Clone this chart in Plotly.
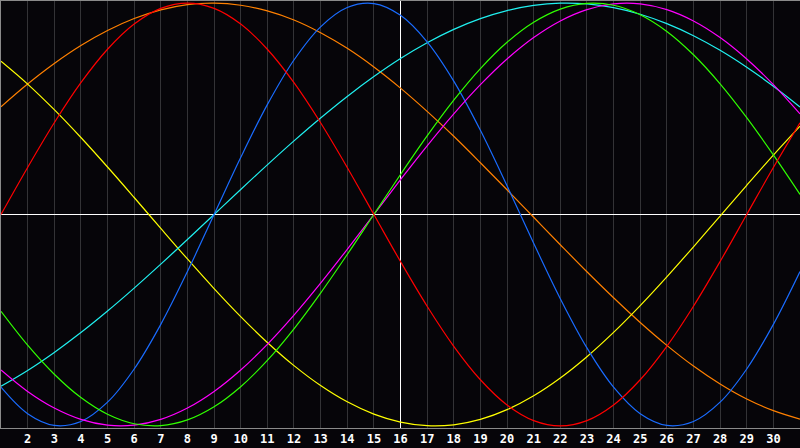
import plotly.graph_objects as go

days = list(range(1, 32))
today = 16
tick_days = list(range(2, 31))
tick_labels = [str(d) for d in tick_days]

red = [0, 0.2225, 0.4339, 0.6235, 0.7818, 0.9010, 0.9749, 1.0, 0.9749, 0.9010,
       0.7818, 0.6235, 0.4339, 0.2225, 0, -0.2225, -0.4339, -0.6235, -0.7818, -0.9010,
       -0.9749, -1.0, -0.9749, -0.9010, -0.7818, -0.6235, -0.4339, -0.2225, 0, 0.2225, 0.4339]
orange = [0.51, 0.6175, 0.7145, 0.7995, 0.8705, 0.927, 0.968, 0.993, 1.0, 0.99,
          0.963, 0.920, 0.860, 0.786, 0.698, 0.598, 0.488, 0.370, 0.245, 0.117,
          -0.013, -0.143, -0.271, -0.394, -0.511, -0.619, -0.717, -0.802, -0.873, -0.928, -0.968]
yellow = [0.7249, 0.6170, 0.4959, 0.3641, 0.2246, 0.0804, -0.0656, -0.2103, -0.3504, -0.4830,
          -0.6053, -0.7149, -0.8090, -0.8860, -0.9441, -0.9820, -0.9990, -0.9948, -0.9693, -0.9232,
          -0.8575, -0.7734, -0.6727, -0.5578, -0.4310, -0.2950, -0.1528, -0.0073, 0.1383, 0.2811, 0.4179]
blue = [-0.8170, -0.9423, -0.9977, -0.9791, -0.8879, -0.7308, -0.5196, -0.2698, 0, 0.2698,
        0.5196, 0.7308, 0.8879, 0.9791, 0.9977, 0.9423, 0.8170, 0.6311, 0.3984, 0.1362,
        -0.1362, -0.3984, -0.6311, -0.8170, -0.9423, -0.9977, -0.9791, -0.8879, -0.7308, -0.5196, -0.2698]
cyan = [-0.8126, -0.7380, -0.6527, -0.5586, -0.4566, -0.3482, -0.2349, -0.1183, 0, 0.1183,
        0.2349, 0.3482, 0.4566, 0.5586, 0.6527, 0.7380, 0.8126, 0.8758, 0.9267, 0.9647,
        0.9890, 0.9996, 0.9961, 0.9785, 0.9473, 0.9028, 0.8457, 0.7766, 0.6965, 0.6068, 0.5086]
green = [-0.4582, -0.6182, -0.7557, -0.8660, -0.9450, -0.9898, -0.9989, -0.9718, -0.9096, -0.8146,
         -0.6901, -0.5406, -0.3717, -0.1893, 0, 0.1893, 0.3717, 0.5406, 0.6901, 0.8146,
         0.9096, 0.9718, 0.9989, 0.9898, 0.9450, 0.8660, 0.7557, 0.6182, 0.4582, 0.2817, 0.0950]
magenta = [-0.7357, -0.8372, -0.9158, -0.9694, -0.9966, -0.9966, -0.9694, -0.9158, -0.8372, -0.7357,
           -0.6142, -0.4759, -0.3247, -0.1646, 0, 0.1646, 0.3247, 0.4759, 0.6142, 0.7357,
           0.8372, 0.9158, 0.9694, 0.9966, 0.9966, 0.9694, 0.9158, 0.8372, 0.7357, 0.6142, 0.4759]

series = [
    ("orange", orange, "#ff8000"),
    ("yellow", yellow, "#ffff00"),
    ("cyan", cyan, "#20f0f0"),
    ("blue", blue, "#1a6cff"),
    ("magenta", magenta, "#ff00ff"),
    ("green", green, "#30ff00"),
    ("red", red, "#ff0000"),
]

y_range = [-1.01, 1.01]
bg = "#060509"
fig = go.Figure()
# "today" marker line, drawn beneath the curves
fig.add_trace(go.Scatter(x=[today, today], y=y_range, mode="lines", name="today",
                         line=dict(color="#ffffff", width=1), hoverinfo="skip"))
for name, vals, col in series:
    fig.add_trace(go.Scatter(x=days, y=vals, mode="lines", name=name,
                             line=dict(color=col, width=1.2, shape="spline", smoothing=1),
                             hoverinfo="skip"))

fig.update_layout(
    width=800, height=448,
    margin=dict(l=1, r=0, t=1, b=20),
    paper_bgcolor=bg, plot_bgcolor=bg,
    showlegend=False,
    xaxis=dict(range=[days[0], days[-1]], tickvals=tick_days, ticktext=tick_labels,
               showgrid=True, gridcolor="#333336", gridwidth=1,
               zeroline=False, showline=True, linecolor="#8a8a8a", linewidth=1, mirror=True,
               ticks="", ticklen=0,
               tickfont=dict(family="DejaVu Sans Mono", size=12, color="#ffffff", weight="bold")),
    yaxis=dict(range=y_range, showgrid=False, showticklabels=False,
               zeroline=True, zerolinecolor="#ffffff", zerolinewidth=1.2,
               showline=True, linecolor="#8a8a8a", linewidth=1, ticks=""),
)

fig.write_html("out.html", config={"displayModeBar": False},
               post_script="document.body.style.margin='0';document.body.style.background='#060509';")
